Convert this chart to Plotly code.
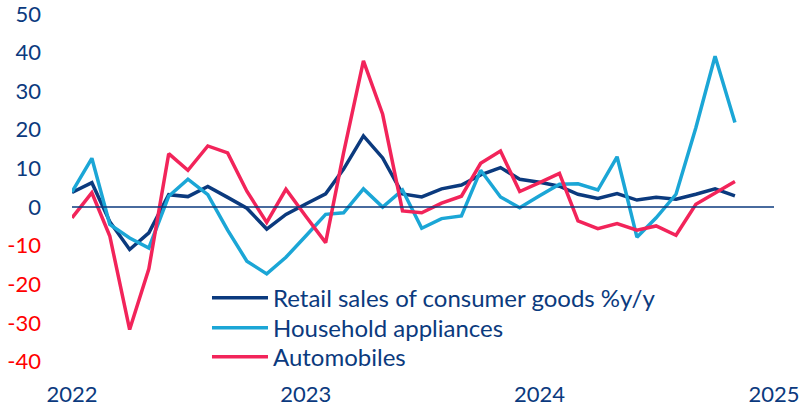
import plotly.graph_objects as go
import pandas as pd

months = pd.date_range("2022-01-01", periods=35, freq="MS")

retail = [3.8, 6.3, -3.8, -11.0, -6.7, 3.2, 2.7, 5.3, 2.5, -0.3, -5.7, -1.9,
          0.8, 3.4, 9.8, 18.4, 12.7, 3.4, 2.6, 4.7, 5.7, 8.3, 10.2, 7.2,
          6.4, 5.4, 3.3, 2.2, 3.5, 1.8, 2.5, 2.0, 3.3, 4.7, 2.9]
household = [3.9, 12.6, -4.5, -8.0, -10.6, 2.8, 7.2, 3.2, -6.0, -14.0, -17.3, -13.0,
             -7.5, -1.9, -1.5, 4.7, 0.0, 4.4, -5.5, -3.0, -2.3, 9.5, 2.6, -0.2,
             2.9, 5.9, 6.0, 4.4, 13.0, -7.8, -2.8, 3.3, 20.5, 39.0, 21.9]
autos = [-2.8, 3.7, -7.5, -31.7, -16.0, 13.8, 9.5, 15.8, 14.0, 4.1, -4.0, 4.6,
         -2.4, -9.2, 14.0, 37.8, 24.0, -1.0, -1.5, 1.0, 2.8, 11.3, 14.5, 4.0,
         6.3, 8.7, -3.6, -5.6, -4.3, -6.0, -4.9, -7.3, 0.7, 3.7, 6.6]

series_names = ["Retail sales of consumer goods %y/y", "Household appliances", "Automobiles"]
series_colors = ["#0b3a7e", "#1ba6d6", "#f2245a"]
legend_ids = ["legend", "legend2", "legend3"]
legend_rows = [0.218, 0.137, 0.059]

y_ticks = [50, 40, 30, 20, 10, 0, -10, -20, -30, -40]
year_ticks = ["2022-01-01", "2023-01-01", "2024-01-01", "2025-01-01"]
year_labels = ["2022", "2023", "2024", "2025"]

navy = "#0b3a7e"
red = "#ff0000"
y_text = [f'<span style="color:{red if v < 0 else navy}">{v}</span>' for v in y_ticks]

fig = go.Figure()
for name, vals, col, lg in zip(series_names, [retail, household, autos], series_colors, legend_ids):
    fig.add_trace(go.Scatter(x=months, y=vals, mode="lines", name=name, legend=lg,
                             line=dict(color=col, width=3.5)))

fig.add_hline(y=0, line=dict(color=navy, width=1.5))

font_family = "Lato, Carlito, Calibri, 'Open Sans', sans-serif"
legend_common = dict(xref="paper", yref="paper", x=0.1923, xanchor="left",
                     yanchor="middle", bgcolor="rgba(0,0,0,0)",
                     font=dict(size=24, color=navy), itemwidth=56)

layout_legends = {lg: dict(y=yr, **legend_common) for lg, yr in zip(legend_ids, legend_rows)}

fig.update_layout(
    width=800, height=407,
    margin=dict(l=72, r=26, t=8, b=28, autoexpand=False),
    paper_bgcolor="white", plot_bgcolor="white",
    font=dict(family=font_family, size=22, color=navy),
    showlegend=True,
    xaxis=dict(range=["2022-01-01", "2025-01-01"], tickvals=year_ticks, ticktext=year_labels,
               showgrid=False, zeroline=False, showline=False, ticks="", automargin=False,
               ticklabeloverflow="allow", tickfont=dict(size=22, color=navy)),
    yaxis=dict(range=[-44.5, 51.5], tickvals=y_ticks, ticktext=y_text, automargin=False,
               showgrid=False, zeroline=False, showline=False, ticks="",
               ticklabeloverflow="allow", ticklabelstandoff=30, tickfont=dict(size=22)),
    **layout_legends,
)

fig.write_html("out.html")
